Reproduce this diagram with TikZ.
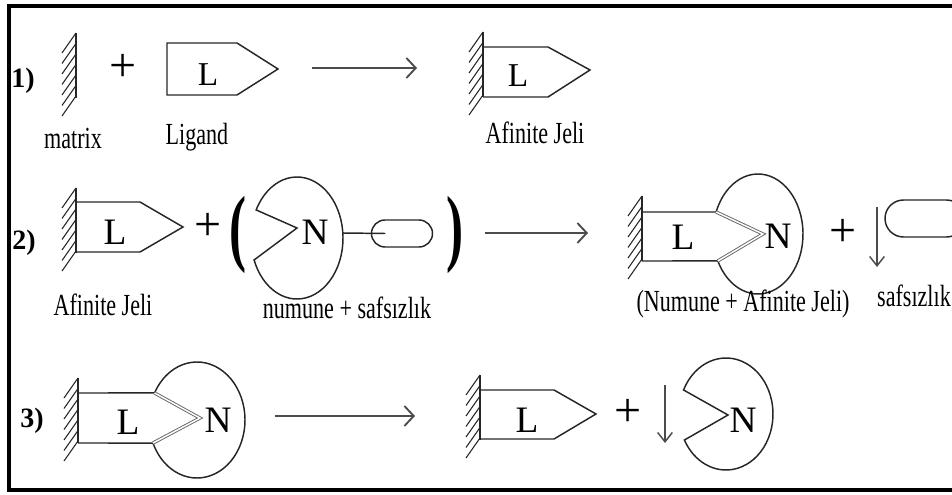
\documentclass[tikz,border=0pt]{standalone}
\usepackage{fontspec}
\setmainfont{Liberation Serif}
\newfontfamily\lblfont{Liberation Serif}[FakeStretch=0.72]
\newfontfamily\parenfont{Liberation Serif}[FakeStretch=0.6]
\usetikzlibrary{arrows.meta, shapes.misc}

\begin{document}
\begin{tikzpicture}[x=0.75pt, y=-0.75pt, line width=1.1pt, draw=black!85,
      lbl/.style={font=\lblfont\fontsize{23}{26}\selectfont, inner sep=0pt},
      sym/.style={font=\fontsize{28}{30}\selectfont, inner sep=0pt},
      symsm/.style={font=\fontsize{25}{28}\selectfont, inner sep=0pt},
      num/.style={font=\bfseries\fontsize{21}{24}\selectfont, inner sep=0pt},
      plus/.style={font=\fontsize{36}{38}\selectfont, inner sep=0pt},
      paren/.style={font=\parenfont\bfseries\fontsize{64}{66}\selectfont, inner sep=0pt},
      pill/.style={draw, rounded rectangle, inner sep=0pt},
      rxn/.style={draw=black!70, line width=1.4pt, -{Straight Barb[length=7pt, width=15pt]}},
      drop/.style={draw=black!70, line width=1.1pt, -{Straight Barb[length=7pt, width=11pt]}},
      dbl/.style={draw=black!60, double=white, double distance=1.1pt, line width=0.7pt},
      wall/.pic={\draw (0,0) -- (0,65);
                 \foreach \k in {0,...,6} \draw[line width=0.8pt] (0,\k*10.5) -- ++(-14,20);},
      frame/.style={draw=black, line width=3pt}]

    \useasboundingbox (0,0) rectangle (952,495);
    \clip (0,0) rectangle (952,495);
    \draw[frame] (970,6) -- (9,6) -- (9,490) -- (970,490);

    % ---- Row 1: matrix + ligand -> gel ----
    \node[num] (n1) at (23,81) {1)};
    \pic at (76,33) {wall};
    \node[plus] (p1) at (123,68) {+};
    \draw (167,43) -- (237,43) -- (278,69) -- (237,95) -- (167,95) -- cycle;
    \node[symsm] (l1) at (208,75) {L};
    \coordinate (a1s) at (312,68);
    \coordinate (a1e) at (417,68);
    \draw[rxn] (a1s) -- (a1e);
    \pic at (483,32) {wall};
    \draw (483,47) -- (548,47) -- (590,70) -- (548,97) -- (483,97);
    \node[symsm] (l1b) at (518,76) {L};
    \node[lbl] (matrix) at (73,138) {matrix};
    \node[lbl] (ligand) at (197,137) {Ligand};
    \node[lbl] (gel1) at (535,133) {Afinite Jeli};

    % ---- Row 2: gel + (sample + impurity) -> bound + impurity ----
    \node[num] (n2) at (24,243) {2)};
    \pic at (76,188) {wall};
    \draw (76,202) -- (140,202) -- (183,227) -- (140,252) -- (76,252);
    \node[sym] (l2) at (115,232) {L};
    \node[plus] (p2) at (208,227) {+};
    \node[paren] (lp) at (238,235) {(};
    \draw (297,238) ++(207.4:46 and 61) arc[start angle=207.4, end angle=518.9, x radius=46, y radius=61]
          -- (297,228) -- cycle;
    \node[sym] (nn2) at (315,232) {N};
    \node[pill, minimum width=45.75pt, minimum height=20.25pt] (imp) at (402,233.5) {};
    \coordinate (c2e) at (343,233);
    \draw (c2e) -- ([xshift=11pt]imp.west);
    \node[paren] (rp) at (455,235) {)};
    \node[lbl] (gel2) at (103,305) {Afinite Jeli};
    \node[lbl] (mix) at (347,308) {numune + safsızlık};

    \coordinate (a2s) at (485,233);
    \coordinate (a2e) at (588,233);
    \draw[rxn] (a2s) -- (a2e);
    \pic at (642,196) {wall};
    \draw (758,234) ++(201.5:45 and 60) coordinate (m1)
          arc[start angle=201.5, end angle=513.3, x radius=45, y radius=60] coordinate (m2);
    \draw (642,212) -- (m1);
    \draw (642,261) -- (m2);
    \draw[dbl] (m1) -- (763,234) -- (m2);
    \node[sym] (l2b) at (683,237) {L};
    \node[sym] (nn2b) at (778,236) {N};
    \node[plus] (p2b) at (843,233) {+};
    \coordinate (d2s) at (877,207);
    \coordinate (d2e) at (877,267);
    \draw[drop] (d2s) -- (d2e);
    \node[pill, minimum width=60pt, minimum height=27.75pt] (imp2) at (925,218.5) {};
    \node[lbl] (bound) at (743,304) {(Numune + Afinite Jeli)};
    \node[lbl] (imp2lbl) at (914,296) {safsızlık};

    % ---- Row 3: elution ----
    \node[num] (n3) at (32,421) {3)};
    \pic at (78,378) {wall};
    \draw (197,420) ++(207.8:48 and 58) coordinate (k1)
          arc[start angle=207.8, end angle=516.6, x radius=48, y radius=58] coordinate (k2);
    \draw (78,393) -- (k1);
    \draw (78,443) -- (k2);
    \draw[dbl] (k1) -- (200,418) -- (k2);
    \node[sym] (l3) at (128,422) {L};
    \node[sym] (nn3) at (218,420) {N};
    \coordinate (a3s) at (275,416);
    \coordinate (a3e) at (415,416);
    \draw[rxn] (a3s) -- (a3e);
    \pic at (480,375) {wall};
    \draw (480,390) -- (554,390) -- (596,414) -- (554,439) -- (480,439);
    \node[sym] (l3b) at (527,420) {L};
    \node[plus] (p3) at (628,413) {+};
    \coordinate (d3s) at (665,385);
    \coordinate (d3e) at (665,443);
    \draw[drop] (d3s) -- (d3e);
    \draw (726,414) ++(205.4:47 and 56) arc[start angle=205.4, end angle=512.3, x radius=47, y radius=56]
          -- (728,415) -- cycle;
    \node[sym] (nn3b) at (743,420) {N};

\end{tikzpicture}
\end{document}
